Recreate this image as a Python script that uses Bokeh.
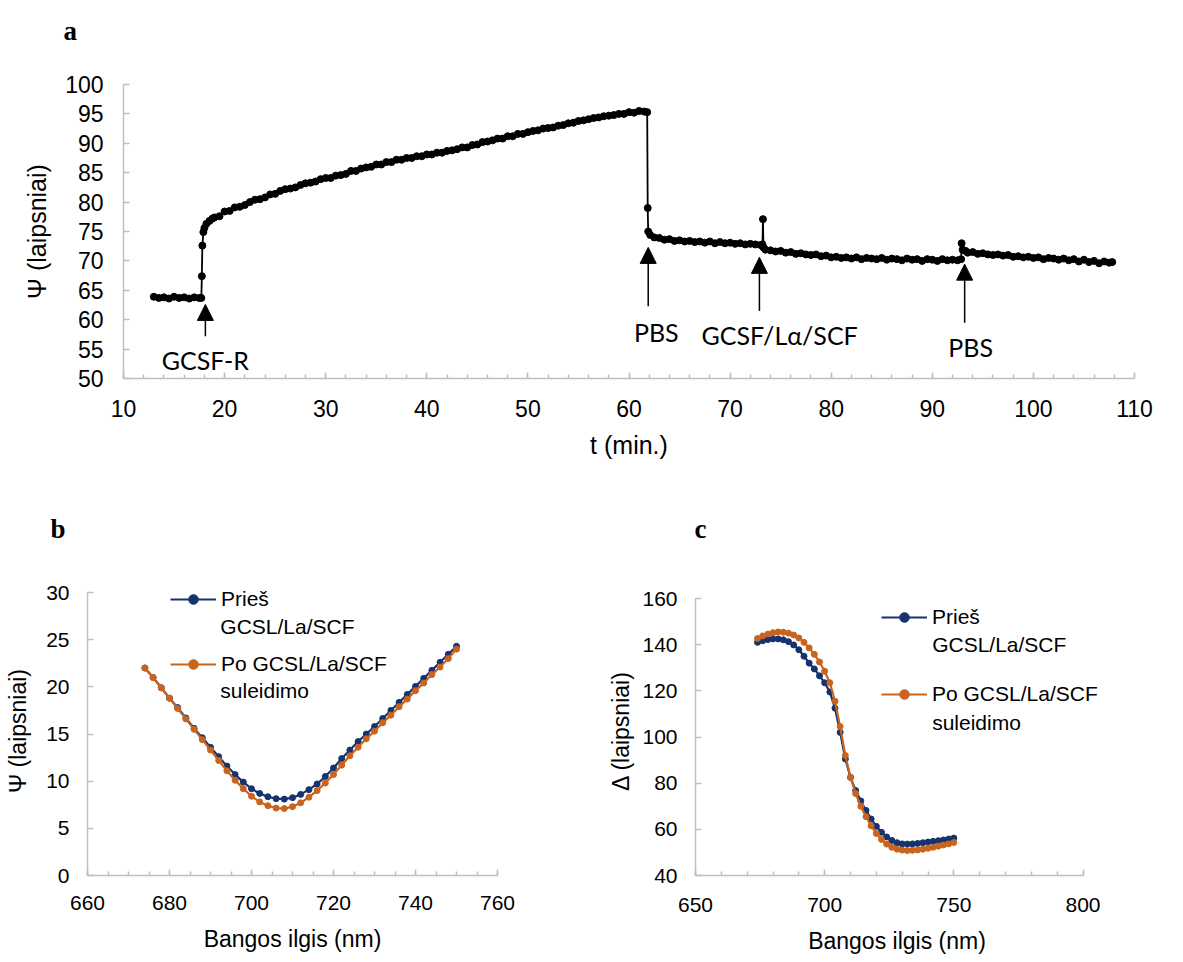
from bokeh.plotting import figure
from bokeh.models import Range1d, FixedTicker, Arrow, NormalHead, Label, Legend, LegendItem
from bokeh.layouts import column, row
from bokeh.embed import file_html
from bokeh.resources import INLINE

# ---------------- data: panel a (kinetics) ----------------
t_min = [13.0, 13.5, 14.0, 14.5, 15.0, 15.5, 16.0, 16.5, 17.0, 17.5,
         17.7, 17.75, 17.8, 17.9, 18.0, 18.2, 18.5, 18.8,
         19.0, 19.5, 20.0, 20.5, 21.0, 21.5, 22.0, 22.5, 23.0, 23.5, 24.0, 24.5,
         25.0, 25.5, 26.0, 26.5, 27.0, 27.5, 28.0, 28.5, 29.0, 29.5, 30.0, 30.5,
         31.0, 31.5, 32.0, 32.5, 33.0, 33.5, 34.0, 34.5, 35.0, 35.5, 36.0, 36.5,
         37.0, 37.5, 38.0, 38.5, 39.0, 39.5, 40.0, 40.5, 41.0, 41.5, 42.0, 42.5,
         43.0, 43.5, 44.0, 44.5, 45.0, 45.5, 46.0, 46.5, 47.0, 47.5, 48.0, 48.5,
         49.0, 49.5, 50.0, 50.5, 51.0, 51.5, 52.0, 52.5, 53.0, 53.5, 54.0, 54.5,
         55.0, 55.5, 56.0, 56.5, 57.0, 57.5, 58.0, 58.5, 59.0, 59.5, 60.0, 60.5,
         61.0, 61.5, 61.8,
         61.85, 61.9, 62.1, 62.5,
         63.0, 63.5, 64.0, 64.5, 65.0, 65.5, 66.0, 66.5, 67.0, 67.5, 68.0, 68.5,
         69.0, 69.5, 70.0, 70.5, 71.0, 71.5, 72.0, 72.5, 73.0, 73.2,
         73.25, 73.3, 73.5,
         74.0, 74.5, 75.0, 75.5, 76.0, 76.5, 77.0, 77.5, 78.0, 78.5, 79.0, 79.5,
         80.0, 80.5, 81.0, 81.5, 82.0, 82.5, 83.0, 83.5, 84.0, 84.5, 85.0, 85.5,
         86.0, 86.5, 87.0, 87.5, 88.0, 88.5, 89.0, 89.5, 90.0, 90.5, 91.0, 91.5,
         92.0, 92.5, 92.85,
         92.9, 93.0, 93.3, 93.5,
         94.0, 94.5, 95.0, 95.5, 96.0, 96.5, 97.0, 97.5, 98.0, 98.5, 99.0, 99.5,
         100.0, 100.5, 101.0, 101.5, 102.0, 102.5, 103.0, 103.5, 104.0, 104.5,
         105.0, 105.5, 106.0, 106.5, 107.0, 107.5, 107.8]
psi_kin = [63.9, 63.7, 63.8, 63.6, 63.9, 63.7, 63.8, 63.6, 63.8, 63.7,
           63.7, 67.4, 72.6, 74.9, 75.6, 76.3, 76.8, 77.2,
           77.4, 77.6, 78.4, 78.5, 79.1, 79.2, 79.5, 80.0, 80.4, 80.5, 80.8, 81.3,
           81.4, 81.9, 82.2, 82.3, 82.5, 82.9, 83.2, 83.3, 83.5, 83.9, 84.1, 84.1,
           84.5, 84.6, 84.8, 85.3, 85.3, 85.7, 85.9, 86.0, 86.4, 86.4, 86.8, 86.8,
           87.2, 87.2, 87.5, 87.5, 87.8, 87.8, 88.1, 88.1, 88.4, 88.4, 88.7, 88.8,
           89.0, 89.3, 89.3, 89.7, 89.8, 90.2, 90.3, 90.5, 90.8, 90.8, 91.2, 91.2,
           91.6, 91.6, 91.9, 92.1, 92.2, 92.5, 92.6, 92.7, 93.0, 93.1, 93.4, 93.5,
           93.8, 93.9, 94.1, 94.3, 94.4, 94.6, 94.7, 94.8, 95.0, 95.0, 95.3, 95.2,
           95.5, 95.4, 95.3,
           79.0, 75.0, 74.4, 74.0,
           73.9, 73.6, 73.7, 73.4, 73.5, 73.3, 73.4, 73.2, 73.3, 73.1, 73.3, 73.0,
           73.2, 73.0, 73.1, 72.9, 73.0, 72.8, 72.9, 72.8, 72.7, 72.8,
           77.1, 72.3, 71.9,
           71.8, 71.6, 71.7, 71.4, 71.5, 71.2, 71.3, 71.1, 71.0, 71.1, 70.8, 70.9,
           70.6, 70.7, 70.5, 70.6, 70.4, 70.6, 70.3, 70.5, 70.4, 70.3, 70.5, 70.2,
           70.4, 70.3, 70.1, 70.4, 70.2, 70.3, 70.0, 70.3, 70.2, 70.0, 70.3, 70.1,
           70.2, 70.1, 70.3,
           73.0, 71.9, 71.7, 71.4,
           71.5, 71.2, 71.3, 71.1, 71.0, 71.1, 70.9, 71.0, 70.7, 70.8, 70.6, 70.7,
           70.5, 70.6, 70.3, 70.5, 70.4, 70.2, 70.4, 70.1, 70.3, 69.9,
           70.2, 69.8, 70.0, 69.6, 69.9, 69.7, 69.8]

a_xticks = [10, 20, 30, 40, 50, 60, 70, 80, 90, 100, 110]
a_xminor = [10, 12, 14, 16, 18, 20, 22, 24, 26, 28, 30, 32, 34, 36, 38, 40, 42, 44, 46, 48,
            50, 52, 54, 56, 58, 60, 62, 64, 66, 68, 70, 72, 74, 76, 78, 80, 82, 84, 86, 88,
            90, 92, 94, 96, 98, 100, 102, 104, 106, 108, 110]
a_yticks = [50, 55, 60, 65, 70, 75, 80, 85, 90, 95, 100]
events = ["GCSF-R", "PBS", "GCSF/Lα/SCF", "PBS"]
event_t = [18.1, 61.9, 72.9, 93.2]

# ---------------- data: panels b, c (spectra) ----------------
wavelength = [674, 676, 678, 680, 682, 684, 686, 688, 690, 692, 694, 696, 698,
              700, 702, 704, 706, 708, 710, 712, 714, 716, 718, 720, 722, 724,
              726, 728, 730, 732, 734, 736, 738, 740, 742, 744, 746, 748, 750]
psi_before = [22.0, 21.0, 19.9, 18.8, 17.8, 16.7, 15.6, 14.6, 13.6, 12.6, 11.6, 10.7, 9.9,
              9.2, 8.7, 8.35, 8.15, 8.1, 8.25, 8.6, 9.1, 9.7, 10.5, 11.4, 12.4, 13.3,
              14.2, 15.0, 15.8, 16.65, 17.5, 18.35, 19.2, 20.05, 20.9, 21.75, 22.6, 23.45, 24.3]
psi_after = [22.0, 21.0, 19.9, 18.8, 17.7, 16.6, 15.5, 14.4, 13.3, 12.2, 11.1, 10.1, 9.2,
             8.4, 7.8, 7.4, 7.15, 7.1, 7.3, 7.7, 8.3, 9.0, 9.8, 10.7, 11.7, 12.7,
             13.6, 14.5, 15.3, 16.2, 17.0, 17.9, 18.7, 19.6, 20.4, 21.3, 22.1, 23.0, 24.0]
delta_before = [141.0, 141.7, 142.2, 142.5, 142.5, 142.1, 141.3, 139.9, 137.8, 135.0, 132.0, 129.5, 126.5,
                123.5, 119.5, 112.5, 102.0, 90.5, 82.5, 76.8, 72.3, 68.2, 64.5, 61.3, 58.7, 56.7,
                55.2, 54.2, 53.7, 53.6, 53.7, 53.9, 54.2, 54.5, 54.8, 55.1, 55.4, 55.8, 56.2]
delta_after = [142.7, 143.8, 144.6, 145.2, 145.5, 145.4, 145.0, 144.2, 142.9, 141.0, 138.6, 135.8, 132.5,
               128.5, 123.5, 115.5, 104.5, 92.0, 82.5, 75.5, 70.0, 65.5, 61.5, 58.2, 55.6, 53.6,
               52.2, 51.4, 51.0, 50.8, 50.9, 51.1, 51.4, 51.8, 52.2, 52.7, 53.2, 53.7, 54.3]
# legend texts: first line next to the sample, second line below it
series_line1 = ["Prieš", "Po GCSL/La/SCF"]
series_line2 = ["GCSL/La/SCF", "suleidimo"]

b_xticks = [660, 680, 700, 720, 740, 760]
b_xminor = [660, 665, 670, 675, 680, 685, 690, 695, 700, 705, 710, 715, 720, 725, 730,
            735, 740, 745, 750, 755, 760]
b_yticks = [0, 5, 10, 15, 20, 25, 30]
c_xticks = [650, 700, 750, 800]
c_xminor = [650, 660, 670, 680, 690, 700, 710, 720, 730, 740, 750, 760, 770, 780, 790, 800]
c_yticks = [40, 60, 80, 100, 120, 140, 160]

BLUE = "#16336e"
ORANGE = "#c9641f"
AXIS = "#bfbfbf"
FONT = "Liberation Sans"


def style_axes(p, tick_size, title_size, xt, xminor, yt, yminor):
    p.outline_line_color = None
    p.grid.visible = False
    p.background_fill_color = "white"
    p.border_fill_color = "white"
    p.xaxis.ticker = FixedTicker(ticks=xt, minor_ticks=xminor)
    p.yaxis.ticker = FixedTicker(ticks=yt, minor_ticks=yminor)
    for ax in (p.xaxis, p.yaxis):
        ax.axis_line_color = AXIS
        ax.axis_line_width = 1.5
        ax.major_tick_line_color = AXIS
        ax.major_tick_line_width = 1.5
        ax.minor_tick_line_color = AXIS
        ax.minor_tick_line_width = 1.5
        ax.major_tick_in = 6
        ax.major_tick_out = 0
        ax.minor_tick_in = 4
        ax.minor_tick_out = 0
        ax.major_label_text_font = FONT
        ax.major_label_text_font_size = tick_size
        ax.major_label_text_color = "#000000"
        ax.axis_label_text_font = FONT
        ax.axis_label_text_font_size = title_size
        ax.axis_label_text_font_style = "normal"
        ax.axis_label_text_color = "#000000"


def style_title(p, offset, standoff):
    p.title.text_font = "Liberation Serif"
    p.title.text_font_style = "bold"
    p.title.text_font_size = "27px"
    p.title.text_color = "black"
    p.title.align = "left"
    p.title.vertical_align = "top"
    p.title.offset = offset
    p.title.standoff = standoff


def legend_for(items, loc, spacing):
    return Legend(items=items, location=loc, label_text_font=FONT, label_text_font_size="21px",
                  label_text_color="black", label_height=24, glyph_height=24,
                  glyph_width=46, label_standoff=5, padding=0, margin=0, spacing=spacing,
                  border_line_alpha=0, background_fill_alpha=0)


# ---------------- panel a ----------------
pa = figure(width=1173, height=470, x_range=Range1d(10, 110), y_range=Range1d(50, 100),
            output_backend="svg", toolbar_location=None, title="a\n ",
            min_border_left=123, min_border_right=39, min_border_top=84, min_border_bottom=92)
style_axes(pa, "23px", "25px", a_xticks, a_xminor, a_yticks, [])
style_title(pa, -60, 14)
pa.xaxis.axis_label = "t (min.)"
pa.yaxis.axis_label = "Ψ (laipsniai)"
pa.xaxis.major_label_standoff = 21
pa.yaxis.major_label_standoff = 20
pa.xaxis.axis_label_standoff = 11
pa.yaxis.axis_label_standoff = 11

pa.line(t_min, psi_kin, line_color="black", line_width=1.8)
pa.scatter(t_min, psi_kin, size=7, color="black")

arrow_tip = [62.6, 72.3, 70.6, 69.45]
arrow_tail = [57.2, 62.3, 61.5, 59.5]
label_xy = [(18.1, 53.2), (62.7, 57.9), (74.9, 57.4), (93.8, 55.3)]
for name, tx, tip, tail, (lx, ly) in zip(events, event_t, arrow_tip, arrow_tail, label_xy):
    pa.add_layout(Arrow(end=NormalHead(size=16, fill_color="black", line_color="black", line_width=1),
                        x_start=tx, y_start=tail, x_end=tx, y_end=tip,
                        line_color="black", line_width=1.5))
    pa.add_layout(Label(x=lx, y=ly, text=name, text_font="Lato", text_font_size="25px",
                        text_align="center", text_baseline="middle", text_color="black"))

# ---------------- panel b ----------------
pb = figure(width=588, height=487, x_range=Range1d(660, 760), y_range=Range1d(0, 30.64),
            output_backend="svg", toolbar_location=None, title="b",
            min_border_left=87, min_border_right=91, min_border_top=116, min_border_bottom=82)
style_axes(pb, "21px", "23px", b_xticks, b_xminor, b_yticks, [])
pb.yaxis.bounds = (0, 30)
style_title(pb, -37, 81)
pb.xaxis.axis_label = "Bangos ilgis (nm)"
pb.yaxis.axis_label = "Ψ (laipsniai)"
pb.xaxis.major_label_standoff = 20
pb.yaxis.major_label_standoff = 18
pb.xaxis.axis_label_standoff = 13
pb.yaxis.axis_label_standoff = 12

lb1 = pb.line(wavelength, psi_before, line_color=BLUE, line_width=2.2)
sb1 = pb.scatter(wavelength, psi_before, size=6, color=BLUE)
lb2 = pb.line(wavelength, psi_after, line_color=ORANGE, line_width=2.2)
sb2 = pb.scatter(wavelength, psi_after, size=6, color=ORANGE)
pb.add_layout(legend_for([LegendItem(label=series_line1[0], renderers=[lb1, sb1]),
                          LegendItem(label=series_line1[1], renderers=[lb2, sb2])],
                         (83, 199), 41))
for txt, yy in zip(series_line2, [26.40, 19.61]):
    pb.add_layout(Label(x=692.4, y=yy, text=txt, text_font=FONT, text_font_size="21px",
                        text_color="black", text_align="left", text_baseline="middle"))

# ---------------- panel c ----------------
pc = figure(width=585, height=487, x_range=Range1d(650, 806), y_range=Range1d(40, 165.2),
            output_backend="svg", toolbar_location=None, title="c",
            min_border_left=107, min_border_right=75, min_border_top=116, min_border_bottom=82)
style_axes(pc, "21px", "23px", c_xticks, c_xminor, c_yticks, [])
pc.xaxis.bounds = (650, 800)
pc.yaxis.bounds = (40, 160)
style_title(pc, -1, 81)
pc.xaxis.axis_label = "Bangos ilgis (nm)"
pc.yaxis.axis_label = "Δ (laipsniai)"
pc.xaxis.major_label_standoff = 22
pc.yaxis.major_label_standoff = 18
pc.xaxis.axis_label_standoff = 13
pc.yaxis.axis_label_standoff = 5

lc1 = pc.line(wavelength, delta_before, line_color=BLUE, line_width=2.2)
sc1 = pc.scatter(wavelength, delta_before, size=6, color=BLUE)
lc2 = pc.line(wavelength, delta_after, line_color=ORANGE, line_width=2.2)
sc2 = pc.scatter(wavelength, delta_after, size=6, color=ORANGE)
pc.add_layout(legend_for([LegendItem(label=series_line1[0], renderers=[lc1, sc1]),
                          LegendItem(label=series_line1[1], renderers=[lc2, sc2])],
                         (186, 169), 53))
for txt, yy in zip(series_line2, [140.0, 106.2]):
    pc.add_layout(Label(x=741.6, y=yy, text=txt, text_font=FONT, text_font_size="21px",
                        text_color="black", text_align="left", text_baseline="middle"))

layout = column(pa, row(pb, pc))
open("out.html", "w").write(file_html(layout, INLINE))
